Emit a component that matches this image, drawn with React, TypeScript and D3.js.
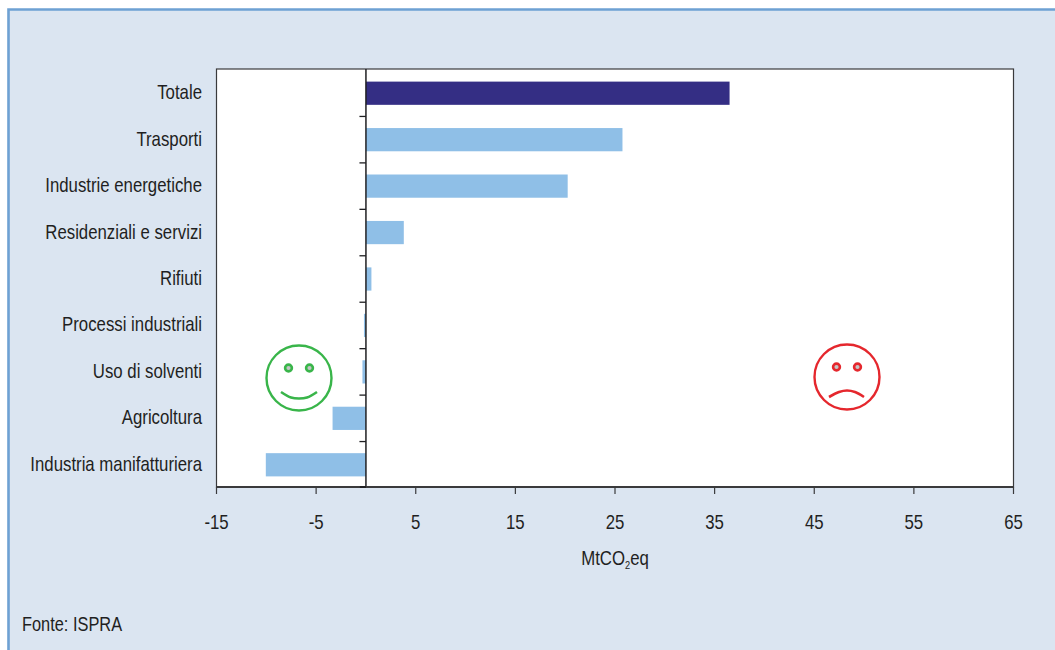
import React from "react";
import * as d3 from "d3";

// Variazione delle emissioni per settore (MtCO2eq)
const categories = [
  "Totale",
  "Trasporti",
  "Industrie energetiche",
  "Residenziali e servizi",
  "Rifiuti",
  "Processi industriali",
  "Uso di solventi",
  "Agricoltura",
  "Industria manifatturiera",
];
const values = [36.5, 25.75, 20.25, 3.8, 0.55, -0.2, -0.35, -3.35, -10.05];
const xTicks = [-15, -5, 5, 15, 25, 35, 45, 55, 65];

const W = 1055;
const H = 650;
const plot = { left: 216.5, right: 1013.5, top: 69, bottom: 487 };
const FONT = "'Liberation Sans', Arial, sans-serif";
const INK = "#1f1f22";
const NARROW = 0.84;

const x = d3.scaleLinear().domain([-15, 65]).range([plot.left, plot.right]);
const y = d3
  .scaleBand<string>()
  .domain(categories)
  .range([plot.top + 1, plot.bottom + 1])
  .paddingInner(0.5)
  .paddingOuter(0.25);

const mouth = d3
  .line<[number, number]>()
  .x((d) => d[0])
  .y((d) => d[1])
  .curve(d3.curveCatmullRom.alpha(0.5));

// Testo condensato: la scala orizzontale restringe il carattere
function Label({
  px,
  py,
  anchor = "start",
  size = 20,
  children,
}: {
  px: number;
  py: number;
  anchor?: "start" | "middle" | "end";
  size?: number;
  children: React.ReactNode;
}) {
  return (
    <text
      transform={`translate(${px},${py}) scale(${NARROW},1)`}
      textAnchor={anchor}
      fontSize={size}
      fill={INK}
    >
      {children}
    </text>
  );
}

// Faccina decorativa: contorno, due occhi grigi e bocca
function Face({
  cx,
  cy,
  color,
  eyeDx,
  curve,
}: {
  cx: number;
  cy: number;
  color: string;
  eyeDx: [number, number];
  curve: [number, number][];
}) {
  return (
    <g>
      <circle cx={cx} cy={cy} r={32.5} fill="#fff" stroke={color} strokeWidth={2.4} />
      {eyeDx.map((dx) => (
        <circle
          key={dx}
          cx={cx + dx}
          cy={cy - 10}
          r={3.4}
          fill="#c4c6c6"
          stroke={color}
          strokeWidth={2.6}
        />
      ))}
      <path
        d={mouth(curve.map(([a, b]) => [cx + a, cy + b]) as [number, number][]) ?? ""}
        fill="none"
        stroke={color}
        strokeWidth={2.6}
      />
    </g>
  );
}

export default function App() {
  const band = y.bandwidth();
  const zero = x(0);
  const rowHeight = (plot.bottom - plot.top) / categories.length;
  const boundaries = d3.range(1, categories.length).map((i) => plot.top + 1 + i * rowHeight);

  return (
    <svg
      width={W}
      height={H}
      viewBox={`0 0 ${W} ${H}`}
      style={{ position: "absolute", left: 0, top: 0, display: "block" }}
      fontFamily={FONT}
    >
      <rect width={W} height={H} fill="#fff" />
      <rect x={8} y={9} width={W - 8} height={H - 9} fill="#dbe5f1" />
      <path d={`M8.5,${H}V9.5H${W}`} fill="none" stroke="#6ea1d3" strokeWidth={2.6} />

      <rect
        x={plot.left}
        y={plot.top}
        width={plot.right - plot.left}
        height={plot.bottom - plot.top}
        fill="#fff"
        stroke="#3a3a3c"
        strokeWidth={1.2}
      />

      {categories.map((c, i) => {
        const v = values[i];
        return (
          <rect
            key={c}
            x={Math.min(x(v), zero)}
            y={y(c)!}
            width={Math.abs(x(v) - zero)}
            height={band}
            fill={i === 0 ? "#342e84" : "#8fbfe7"}
          />
        );
      })}

      {/* Asse dello zero con tacche tra le categorie */}
      <line x1={zero} x2={zero} y1={plot.top} y2={plot.bottom} stroke={INK} strokeWidth={1.5} />
      {boundaries.map((b) => (
        <line key={b} x1={zero - 6.5} x2={zero} y1={b} y2={b} stroke={INK} strokeWidth={1.3} />
      ))}

      {/* Asse orizzontale */}
      <line x1={plot.left} x2={plot.right} y1={plot.bottom} y2={plot.bottom} stroke="#3a3a3c" strokeWidth={2} />
      <line x1={zero - 6} x2={zero} y1={plot.bottom} y2={plot.bottom} stroke={INK} strokeWidth={2} />
      {xTicks.map((t) => (
        <g key={t}>
          <line x1={x(t)} x2={x(t)} y1={plot.bottom} y2={plot.bottom + 7} stroke="#3a3a3c" strokeWidth={1.2} />
          <Label px={x(t)} py={529} anchor="middle">
            {t}
          </Label>
        </g>
      ))}

      {categories.map((c) => (
        <Label key={c} px={202} py={y(c)! + band / 2 + 6} anchor="end">
          {c}
        </Label>
      ))}

      <Label px={615} py={565} anchor="middle">
        MtCO
        <tspan fontSize={11} dy={4}>
          2
        </tspan>
        <tspan dy={-4}>eq</tspan>
      </Label>

      <Label px={22} py={631} size={19.5}>
        Fonte: ISPRA
      </Label>

      <Face
        cx={299}
        cy={378}
        color="#39b54a"
        eyeDx={[-10.5, 10.5]}
        curve={[
          [-18, 14],
          [-8, 19.5],
          [0, 20.5],
          [8, 19.5],
          [18, 14],
        ]}
      />
      <Face
        cx={847}
        cy={377}
        color="#e5272d"
        eyeDx={[-10.5, 10.5]}
        curve={[
          [-18, 20],
          [-8, 15],
          [0, 13.5],
          [8, 15],
          [17, 20],
        ]}
      />
    </svg>
  );
}
